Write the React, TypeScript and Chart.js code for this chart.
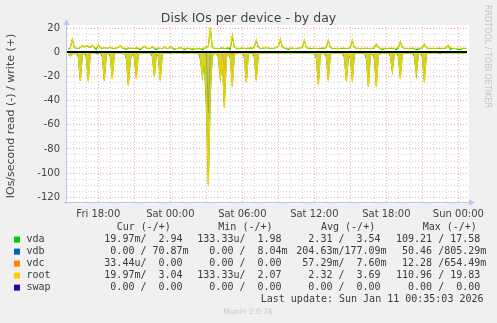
import React, { useEffect, useRef } from 'react';
import { Chart, registerables } from 'chart.js';

Chart.register(...registerables);

// time axis in hours relative to Sat 00:00; samples every 10 minutes
const SAMPLE_START = -8.5;
const SAMPLE_STEP = 1 / 6;
const X_MIN = -8.61;
const X_MAX = 24.72;
const Y_MIN = -123.9;
const Y_MAX = 20.94;

const rootWrite = [
  3.2, 3.8, 11.0, 4.5, 3.6, 3.4, 4.2, 5.8, 4.6, 5.5, 5.0, 4.4, 6.0, 4.2, 3.8, 6.5, 4.0, 3.5, 4.2, 3.6,
  3.8, 4.4, 3.6, 3.4, 3.9, 4.2, 5.6, 4.0, 3.5, 3.3, 3.8, 3.4, 3.6, 3.2, 3.9, 3.5, 3.3, 4.0, 5.2, 3.8,
  3.4, 3.6, 4.8, 3.5, 3.3, 3.7, 3.4, 3.2, 4.6, 3.6, 3.3, 5.0, 3.8, 3.4, 3.2, 3.6, 4.2, 3.5, 3.3, 3.4,
  3.6, 3.2, 3.4, 3.1, 3.3, 3.5, 3.2, 3.4, 3.6, 4.5, 5.0, 20.0, 4.2, 3.6, 3.4, 3.2, 3.6, 3.8, 3.4, 3.5,
  3.9, 4.4, 14.0, 4.5, 3.6, 3.3, 3.5, 3.8, 3.4, 3.3, 3.6, 3.8, 3.5, 4.8, 10.0, 4.4, 3.6, 3.4, 4.0, 4.2,
  3.8, 3.5, 3.4, 3.6, 4.2, 5.2, 11.0, 4.6, 3.8, 3.5, 3.4, 3.8, 3.6, 3.4, 3.3, 3.6, 3.8, 4.4, 10.0, 4.2,
  3.7, 3.5, 3.4, 3.6, 3.4, 3.3, 3.5, 3.7, 3.4, 4.6, 10.0, 4.2, 3.6, 3.4, 3.5, 3.3, 3.4, 3.6, 3.5, 3.4,
  3.6, 4.4, 10.0, 4.2, 3.6, 3.4, 3.3, 3.5, 3.4, 3.6, 3.4, 3.3, 3.5, 4.0, 7.0, 4.2, 3.6, 3.4, 3.5, 3.3,
  3.4, 3.6, 3.5, 3.4, 3.5, 4.2, 9.0, 4.4, 3.6, 3.4, 3.3, 3.5, 3.6, 3.4, 3.3, 3.5, 3.6, 4.0, 7.0, 4.0,
  3.6, 3.4, 3.5, 3.3, 3.4, 3.6, 3.5, 3.4, 3.6, 4.0, 6.0, 3.8, 3.5, 3.4, 3.3, 3.5, 3.6, 3.4, 3.5, 3.4,
];

const vdaWrite = [
  2.6, 3.5, 10.6, 4.2, 3.3, 3.1, 3.9, 5.5, 4.3, 5.2, 4.7, 4.1, 5.7, 3.9, 2.4, 6.2, 3.7, 3.2, 3.9, 3.3,
  3.5, 4.1, 3.3, 3.1, 3.6, 3.9, 5.3, 3.7, 3.2, 2.4, 3.5, 3.1, 3.3, 2.9, 3.6, 3.2, 2.2, 3.7, 4.9, 3.5,
  3.1, 3.3, 4.5, 3.2, 2.3, 3.4, 3.1, 2.9, 4.3, 3.3, 3.0, 4.7, 3.5, 2.4, 2.9, 3.3, 3.9, 3.2, 2.3, 3.1,
  3.3, 2.9, 2.4, 2.8, 3.0, 3.2, 2.9, 2.3, 3.3, 4.2, 4.7, 19.6, 3.9, 3.3, 3.1, 2.9, 3.3, 3.5, 3.1, 3.2,
  3.6, 2.5, 13.6, 4.2, 3.3, 3.0, 3.2, 3.5, 3.1, 3.0, 3.3, 3.5, 3.2, 4.5, 9.7, 4.1, 3.3, 3.1, 3.7, 3.9,
  3.5, 3.2, 3.1, 3.3, 3.9, 4.9, 10.6, 4.3, 3.5, 3.2, 2.3, 3.5, 3.3, 3.1, 3.0, 3.3, 3.5, 4.1, 9.7, 3.9,
  3.4, 3.2, 3.1, 3.3, 3.1, 3.0, 3.2, 3.4, 3.1, 4.3, 9.7, 3.9, 3.3, 3.1, 3.2, 3.0, 3.1, 3.3, 3.2, 3.1,
  3.3, 4.1, 9.7, 3.9, 3.3, 3.1, 3.0, 3.2, 3.1, 3.3, 3.1, 3.0, 3.2, 3.7, 6.7, 3.9, 3.3, 2.3, 3.2, 3.0,
  3.1, 3.3, 3.2, 3.1, 2.3, 3.9, 8.7, 4.1, 3.3, 3.1, 3.0, 3.2, 3.3, 3.1, 2.2, 2.4, 3.3, 3.7, 6.7, 3.7,
  3.3, 3.1, 3.2, 3.0, 3.1, 3.3, 3.2, 3.1, 3.3, 3.7, 5.7, 2.4, 3.2, 3.1, 3.0, 2.3, 2.2, 3.1, 3.2, 3.1,
];

// read rates (drawn below zero)
const rootRead = [
  2.5, 3.0, 1.5, 0.6, 0.5, 2.0, 24.0, 2.0, 0.6, 1.5, 24.0, 1.5, 0.5, 0.4, 0.6, 0.5, 0.4, 2.0, 24.0, 1.8,
  0.5, 1.5, 22.0, 1.2, 0.5, 0.4, 0.6, 0.4, 0.5, 3.0, 27.6, 6.0, 0.6, 2.0, 22.0, 1.5, 0.5, 0.4, 0.5, 0.6,
  0.4, 0.5, 1.5, 20.7, 1.2, 1.5, 23.5, 1.5, 0.5, 0.4, 0.5, 0.6, 0.4, 0.5, 0.4, 0.6, 0.5, 0.4, 0.5, 0.4,
  0.6, 0.5, 0.4, 0.5, 0.8, 0.6, 3.0, 20.5, 4.0, 38.0, 110.5, 30.0, 2.0, 0.8, 0.6, 2.0, 22.0, 6.0, 46.0, 4.0,
  1.0, 3.0, 28.5, 2.0, 0.6, 0.5, 0.4, 0.5, 2.0, 25.0, 1.5, 0.5, 0.4, 2.0, 23.5, 1.5, 0.5, 0.4, 0.5, 0.6,
  0.4, 0.5, 0.6, 0.4, 0.5, 0.4, 0.6, 0.5, 0.4, 0.5, 0.6, 0.4, 0.5, 0.4, 0.5, 0.6, 0.4, 0.5, 0.6, 0.4,
  0.5, 0.4, 0.6, 0.5, 2.5, 27.0, 2.0, 0.5, 0.4, 2.0, 23.5, 1.5, 0.5, 0.4, 0.6, 0.5, 0.4, 0.5, 2.0, 24.3,
  2.0, 1.5, 24.3, 1.5, 0.5, 0.4, 0.6, 0.5, 0.4, 2.5, 28.5, 2.0, 0.6, 2.5, 28.5, 2.0, 0.5, 0.4, 0.6, 0.5,
  0.4, 1.5, 16.0, 1.2, 0.5, 1.5, 22.0, 1.5, 0.5, 0.4, 0.6, 0.5, 0.4, 1.5, 18.8, 1.2, 0.5, 2.0, 25.0, 1.5,
  0.5, 0.4, 0.6, 0.5, 0.4, 0.5, 0.6, 0.4, 0.5, 0.4, 0.6, 0.5, 0.4, 0.5, 0.6, 0.4, 0.5, 0.4, 0.5, 0.4,
];

const vdaRead = [
  2.5, 3.0, 1.5, 0.6, 0.5, 4.0, 23.5, 2.0, 0.6, 4.0, 23.5, 1.5, 0.5, 0.4, 0.6, 0.5, 0.4, 4.0, 23.5, 1.8,
  0.5, 3.5, 21.5, 1.2, 0.5, 0.4, 0.6, 0.4, 0.5, 5.0, 27.0, 6.0, 0.6, 4.0, 21.5, 1.5, 0.5, 0.4, 0.5, 0.6,
  0.4, 0.5, 3.5, 20.2, 1.2, 3.5, 23.0, 1.5, 0.5, 0.4, 0.5, 0.6, 0.4, 0.5, 0.4, 0.6, 0.5, 0.4, 0.5, 0.4,
  0.6, 0.5, 0.4, 0.5, 0.8, 0.6, 5.0, 20.0, 8.0, 44.0, 109.2, 34.0, 3.0, 0.8, 0.6, 4.0, 21.5, 8.0, 45.0, 4.0,
  1.0, 5.0, 28.0, 2.0, 0.6, 0.5, 0.4, 0.5, 4.0, 24.5, 1.5, 0.5, 0.4, 4.0, 23.0, 1.5, 0.5, 0.4, 0.5, 0.6,
  0.4, 0.5, 0.6, 0.4, 0.5, 0.4, 0.6, 0.5, 0.4, 0.5, 0.6, 0.4, 0.5, 0.4, 0.5, 0.6, 0.4, 0.5, 0.6, 0.4,
  0.5, 0.4, 0.6, 0.5, 5.0, 26.5, 2.0, 0.5, 0.4, 4.0, 23.0, 1.5, 0.5, 0.4, 0.6, 0.5, 0.4, 0.5, 4.0, 23.8,
  4.0, 3.5, 23.8, 1.5, 0.5, 0.4, 0.6, 0.5, 0.4, 5.0, 28.0, 2.0, 0.6, 5.0, 28.0, 2.0, 0.5, 0.4, 0.6, 0.5,
  0.4, 3.0, 15.5, 1.2, 0.5, 3.5, 21.5, 1.5, 0.5, 0.4, 0.6, 0.5, 0.4, 3.5, 18.3, 1.2, 0.5, 4.0, 24.5, 1.5,
  0.5, 0.4, 0.6, 0.5, 0.4, 0.5, 0.6, 0.4, 0.5, 0.4, 0.6, 0.5, 0.4, 0.5, 0.6, 0.4, 0.5, 0.4, 0.5, 0.4,
];

const vdbReadTimes = [-8.6, -6.27, -6.1, -5.93, -1.6, -1.43, -1.27, 3.0, 3.17, 3.33, 4.97, 5.14, 5.3, 6.73, 6.9, 7.07, 17.3, 17.47, 17.63, 22.3, 22.47, 22.63, 24.7];
const vdbReadValues = [0.1, 0.1, 1.2, 0.1, 0.1, 0.9, 0.1, 0.2, 50.5, 0.2, 0.1, 1.6, 0.1, 0.1, 0.9, 0.1, 0.1, 1.0, 0.1, 0.1, 1.1, 0.1, 0.1];
const vdbWriteTimes = [-8.6, -2.0, -1.83, -1.67, 5.0, 5.17, 5.33, 13.8, 13.97, 14.13, 24.7];
const vdbWriteValues = [0.1, 0.1, 0.8, 0.1, 0.1, 0.6, 0.1, 0.1, 0.7, 0.1, 0.1];
const vdcReadTimes = [-8.6, 4.33, 4.5, 4.67, 5.0, 5.17, 5.33, 24.7];
const vdcReadValues = [0, 0, 12.3, 0, 0, 3.0, 0, 0];
const vdcWriteTimes = [-8.6, 3.0, 3.17, 3.33, 24.7];
const vdcWriteValues = [0, 0, 0.65, 0, 0];
const swapTimes = [-8.6, 24.7];
const swapValues = [0, 0];

const xLabelHours = [-6, 0, 6, 12, 18, 24];
const xLabels = ['Fri 18:00', 'Sat 00:00', 'Sat 06:00', 'Sat 12:00', 'Sat 18:00', 'Sun 00:00'];
const yLabelValues = [-120, -100, -80, -60, -40, -20, 0, 20];

const legendNames = ['vda', 'vdb', 'vdc', 'root', 'swap'];
const legendColors = ['#00CC00', '#0066B3', '#FF8000', '#FFCC00', '#330099'];
const legendHeaders = ['Cur (-/+)', 'Min (-/+)', 'Avg (-/+)', 'Max (-/+)'];
const curCol = [' 19.97m/  2.94', '  0.00 / 70.87m', ' 33.44u/  0.00', ' 19.97m/  3.04', '  0.00 /  0.00'];
const minCol = ['133.33u/  1.98', '  0.00 /  8.04m', '  0.00 /  0.00', '133.33u/  2.07', '  0.00 /  0.00'];
const avgCol = ['  2.31 /  3.54', '204.63m/177.09m', ' 57.29m/  7.60m', '  2.32 /  3.69', '  0.00 /  0.00'];
const maxCol = ['109.21 / 17.58', ' 50.46 /805.29m', ' 12.28 /654.49m', '110.96 / 19.83', '  0.00 /  0.00'];
const lastUpdate = 'Last update: Sun Jan 11 00:35:03 2026';

const sampled = (values: number[], sign: number) =>
  values.map((v, i) => ({ x: SAMPLE_START + i * SAMPLE_STEP, y: sign * v }));
const paired = (times: number[], values: number[], sign: number) =>
  times.map((t, i) => ({ x: t, y: sign * values[i] }));

const SANS = '"DejaVu Sans", Verdana, sans-serif';
const MONO = '"DejaVu Sans Mono", monospace';
const MINOR = 'rgba(185,185,185,0.6)';
const MAJOR = 'rgba(235,130,130,0.7)';

const muninPlugin = {
  id: 'munin',
  beforeDraw(chart: any) {
    const { ctx, chartArea: a } = chart;
    ctx.save();
    ctx.fillStyle = '#F0F0F0';
    ctx.fillRect(0, 0, chart.width, chart.height);
    ctx.fillStyle = '#FFFFFF';
    ctx.fillRect(a.left, a.top - 2, a.right - a.left + 2, a.bottom - a.top + 2);
    ctx.restore();
  },
  afterDatasetsDraw(chart: any) {
    const { ctx, chartArea: a, scales } = chart;
    const y0 = Math.round(scales.y.getPixelForValue(0));
    ctx.save();
    ctx.fillStyle = '#000000';
    ctx.fillRect(a.left, y0 - 1, a.right - a.left, 2);
    ctx.restore();
  },
  afterDraw(chart: any) {
    const { ctx, chartArea: a } = chart;
    ctx.save();
    // axes with arrows
    ctx.strokeStyle = '#BCC4F4';
    ctx.fillStyle = '#BCC4F4';
    ctx.lineWidth = 1;
    ctx.beginPath();
    ctx.moveTo(a.left - 0.5, a.bottom + 2);
    ctx.lineTo(a.left - 0.5, a.top - 3);
    ctx.moveTo(a.left - 3, a.bottom + 0.5);
    ctx.lineTo(a.right + 3, a.bottom + 0.5);
    ctx.stroke();
    ctx.beginPath();
    ctx.moveTo(a.left - 0.5, a.top - 8);
    ctx.lineTo(a.left - 3.5, a.top - 2);
    ctx.lineTo(a.left + 2.5, a.top - 2);
    ctx.closePath();
    ctx.fill();
    ctx.beginPath();
    ctx.moveTo(a.right + 8, a.bottom + 0.5);
    ctx.lineTo(a.right + 2, a.bottom - 2.5);
    ctx.lineTo(a.right + 2, a.bottom + 3.5);
    ctx.closePath();
    ctx.fill();

    // title
    ctx.fillStyle = '#444444';
    ctx.font = `12.5px ${SANS}`;
    ctx.textAlign = 'center';
    ctx.textBaseline = 'middle';
    ctx.fillText('Disk IOs per device - by day', 248.5, 19);

    // y axis title
    ctx.save();
    ctx.translate(11, 116);
    ctx.rotate(-Math.PI / 2);
    ctx.font = `11px ${SANS}`;
    ctx.fillText('IOs/second read (-) / write (+)', 0, 0);
    ctx.restore();

    // watermark
    ctx.save();
    ctx.translate(487, 5);
    ctx.rotate(Math.PI / 2);
    ctx.fillStyle = '#C4C4C4';
    ctx.font = `8px ${SANS}`;
    ctx.textAlign = 'left';
    ctx.fillText('RRDTOOL / TOBI OETIKER', 0, 0);
    ctx.restore();

    // legend
    ctx.font = `10px ${MONO}`;
    ctx.textAlign = 'left';
    ctx.fillStyle = '#3A3A3A';
    const headerX = [116.7, 218.3, 321, 422.7];
    legendHeaders.forEach((h, i) => ctx.fillText(h, headerX[i], 227.5));
    const cellX = [98.3, 197.3, 296.3, 396];
    const cols = [curCol, minCol, avgCol, maxCol];
    legendNames.forEach((name, r) => {
      const y = 239.6 + r * 12;
      ctx.fillStyle = legendColors[r];
      ctx.fillRect(14, y - 3, 6, 6);
      ctx.fillStyle = '#3A3A3A';
      ctx.fillText(name, 26.5, y);
      cols.forEach((col, c) => ctx.fillText(col[r], cellX[c], y));
    });
    ctx.textAlign = 'right';
    ctx.fillText(lastUpdate, 483.5, 299.7);

    ctx.textAlign = 'center';
    ctx.fillStyle = '#C8C8C8';
    ctx.font = `7.6px ${SANS}`;
    ctx.fillText('Munin 2.0.76', 248, 312.3);
    ctx.restore();
  },
};

export default function App() {
  const ref = useRef<HTMLCanvasElement>(null);

  useEffect(() => {
    document.body.style.margin = '0';
    const line = (label: string, data: any[], color: string, order: number, fillColor?: string) => ({
      label,
      data,
      borderColor: color,
      backgroundColor: fillColor || color,
      borderWidth: 1.1,
      pointRadius: 0,
      tension: 0,
      fill: fillColor ? 'origin' : false,
      order,
    });
    const datasets = [
      line('swap read', paired(swapTimes, swapValues, -1), '#330099', 0),
      line('swap write', paired(swapTimes, swapValues, 1), '#330099', 0),
      line('root read', sampled(rootRead, -1), '#FFCC00', 1, 'rgba(214,204,30,0.7)'),
      line('root write', sampled(rootWrite, 1), '#FFCC00', 1),
      line('vdc read', paired(vdcReadTimes, vdcReadValues, -1), '#FF8000', 3),
      line('vdc write', paired(vdcWriteTimes, vdcWriteValues, 1), '#FF8000', 3),
      line('vdb read', paired(vdbReadTimes, vdbReadValues, -1), '#0066B3', 4),
      line('vdb write', paired(vdbWriteTimes, vdbWriteValues, 1), '#0066B3', 4),
      line('vda read', sampled(vdaRead, -1), '#00CC00', 5, 'rgba(120,200,40,0.5)'),
      line('vda write', sampled(vdaWrite, 1), '#00CC00', 5),
    ];

    const xTicks: number[] = [];
    for (let h = Math.ceil(X_MIN); h <= Math.floor(X_MAX); h++) xTicks.push(h);
    const yTicks: number[] = [];
    for (let v = yLabelValues[0]; v <= yLabelValues[yLabelValues.length - 1]; v += 5) yTicks.push(v);

    const chart = new Chart(ref.current as HTMLCanvasElement, {
      type: 'line',
      data: { datasets: datasets as any },
      plugins: [muninPlugin],
      options: {
        animation: false,
        responsive: false,
        maintainAspectRatio: false,
        events: [],
        layout: { padding: { left: 0, top: 27, right: 30, bottom: 0 } },
        plugins: {
          legend: { display: false },
          tooltip: { enabled: false },
          title: { display: false },
          filler: { drawTime: 'beforeDatasetDraw' },
        },
        scales: {
          x: {
            type: 'linear',
            min: X_MIN,
            max: X_MAX,
            afterBuildTicks: (s: any) => {
              s.ticks = xTicks.map((v) => ({ value: v }));
            },
            afterFit: (s: any) => {
              s.height = 121;
            },
            grid: {
              color: (c: any) => (c.tick && c.tick.value % 3 === 0 ? MAJOR : MINOR),
              lineWidth: 1,
              drawTicks: false,
            },
            border: { display: false, dash: [1, 2] },
            ticks: {
              autoSkip: false,
              maxRotation: 0,
              padding: 6,
              color: '#444444',
              font: { family: SANS, size: 10 },
              callback: (v: any) => {
                const k = xLabelHours.indexOf(Number(v));
                return k >= 0 ? xLabels[k] : '';
              },
            },
          },
          y: {
            type: 'linear',
            min: Y_MIN,
            max: Y_MAX,
            afterBuildTicks: (s: any) => {
              s.ticks = yTicks.map((v) => ({ value: v }));
            },
            afterFit: (s: any) => {
              s.width = 67;
            },
            grid: {
              color: (c: any) => (c.tick && c.tick.value % 20 === 0 ? MAJOR : MINOR),
              lineWidth: 1,
              drawTicks: false,
            },
            border: { display: false, dash: [1, 2] },
            ticks: {
              autoSkip: false,
              padding: 7,
              color: '#444444',
              font: { family: SANS, size: 10 },
              callback: (v: any) => (yLabelValues.indexOf(Number(v)) >= 0 ? String(v) : ''),
            },
          },
        },
      },
    } as any);
    return () => chart.destroy();
  }, []);

  return (
    <div style={{ width: 497, height: 323, background: '#F0F0F0' }}>
      <canvas ref={ref} width={497} height={323} style={{ display: 'block' }} />
    </div>
  );
}
